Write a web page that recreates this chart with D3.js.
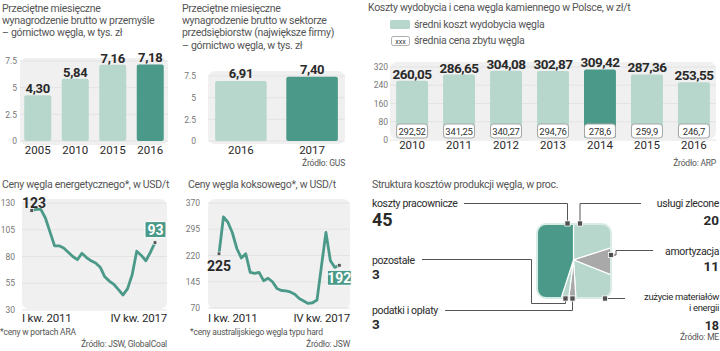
<!DOCTYPE html>
<html><head><meta charset="utf-8">
<script src="https://cdn.jsdelivr.net/npm/d3@7"></script>
<style>
html,body{margin:0;padding:0;background:#fff;}
svg{display:block;font-family:Roboto,"Noto Sans",sans-serif;}
</style></head><body>
<svg id="c" width="720" height="351"></svg>
<script>
// ---------- DATA ----------
const wageYears = ["2005","2010","2015","2016"];
const wageValues = [4.30, 5.84, 7.16, 7.18];
const wageTicks = [0, 2.5, 5, 7.5];

const corpYears = ["2016","2017"];
const corpValues = [6.91, 7.40];

const costYears = ["2010","2011","2012","2013","2014","2015","2016"];
const costValues = [260.05, 286.65, 304.08, 302.87, 309.42, 287.36, 253.55];
const priceValues = [292.52, 341.25, 340.27, 294.76, 278.6, 259.9, 246.7];
const costTicks = [0, 80, 160, 240, 320];

const quarterYears = ["2011","2012","2013","2014","2015","2016","2017"];
const quarterNames = ["I","II","III","IV"];
const energyValues = [123,124,124,116,103,90,90,88,84,80,77,83,79,76,74,70,61,57,54,49,44,50,63,85,81,76,84,93];
const energyTicks = [30, 55, 80, 105, 130];
const cokingValues = [225,330,315,285,240,213,225,172,169,172,148,155,145,126,120,119,116,109,97,90,83,85,93,190,286,205,186,192];
const cokingTicks = [70, 145, 220, 295, 370];

const structLabels = ["usługi zlecone","amortyzacja","zużycie materiałów i energii","podatki i opłaty","pozostałe","koszty pracownicze"];
const structValues = [20, 11, 18, 3, 3, 45];

// ---------- STYLE ----------
const LIGHT = "#b7d7cd", DARK = "#4b9a89", GREYBG = "#f0f0f0", GRID = "#e3e3e3";
const TITLE = "#555", TXT = "#2a2a2a", AXIS = "#777", PIEGREY = "#a9a9a9";

const svg = d3.select("#c");
const quarters = [];
quarterYears.forEach(y => quarterNames.forEach(q => quarters.push(q + " kw. " + y)));

function title(x, y0, lines, lh) {
  const t = svg.append("text").attr("fill", TITLE).attr("font-size", 10.5).attr("letter-spacing", -0.3);
  lines.forEach((l, i) => t.append("tspan").attr("x", x).attr("y", y0 + i * lh).text(l));
}
function bg(x, y, w, h) {
  svg.append("rect").attr("x", x).attr("y", y).attr("width", w).attr("height", h)
    .attr("rx", 7).attr("fill", GREYBG);
}
function yAxis(scale, ticks, x, fmt, x0, x1, grid) {
  if (grid) {
    svg.append("g").selectAll("line").data(ticks).join("line")
      .attr("x1", x0).attr("x2", x1).attr("y1", d => scale(d)).attr("y2", d => scale(d))
      .attr("stroke", GRID).attr("stroke-width", 1);
  }
  const g = svg.append("g").attr("transform", `translate(${x},0)`)
    .call(d3.axisLeft(scale).tickValues(ticks).tickSize(0).tickPadding(0).tickFormat(fmt));
  g.select(".domain").remove();
  g.selectAll("text").attr("fill", AXIS).attr("font-size", 8.5).attr("font-family", "Roboto");
}
function source(x, y, s) {
  svg.append("text").attr("x", x).attr("y", y).attr("text-anchor", "end")
    .attr("fill", "#555").attr("font-size", 8.5).attr("letter-spacing", -0.2).text(s);
}
const comma2 = v => v.toFixed(2).replace(".", ",");

// ---------- PANEL 1 ----------
title(2, 12, ["Przeciętne miesięczne", "wynagrodzenie brutto w przemyśle", "– górnictwo węgla, w tys. zł"], 12.2);
bg(20, 58, 148, 87);
{
  const x = d3.scaleBand().domain(wageYears).range([19, 169]).paddingInner(0.28).paddingOuter(0.14);
  const y = d3.scaleLinear().domain([0, 7.5]).range([141, 61]);
  yAxis(y, wageTicks, 17, d => String(d), 20, 168, true);
  svg.append("g").selectAll("rect").data(wageValues).join("rect")
    .attr("x", (d, i) => x(wageYears[i])).attr("width", x.bandwidth())
    .attr("y", d => y(d)).attr("height", d => y(0) - y(d)).attr("rx", 2)
    .attr("fill", (d, i) => i === wageValues.length - 1 ? DARK : LIGHT);
  svg.append("g").selectAll("text").data(wageValues).join("text")
    .attr("x", (d, i) => x(wageYears[i]) + x.bandwidth() / 2).attr("y", d => y(d) - 2)
    .attr("text-anchor", "middle").attr("font-weight", 700).attr("font-size", 13).attr("letter-spacing", -0.3).attr("fill", TXT)
    .text(comma2);
  svg.append("g").selectAll("text").data(wageYears).join("text")
    .attr("x", d => x(d) + x.bandwidth() / 2).attr("y", 154)
    .attr("text-anchor", "middle").attr("font-size", 11.5).attr("fill", TXT).text(d => d);
}

// ---------- PANEL 2 ----------
title(182, 12, ["Przeciętne miesięczne", "wynagrodzenie brutto w sektorze", "przedsiębiorstw (największe firmy)", "– górnictwo węgla, w tys. zł"], 12.2);
bg(208, 71, 137, 73);
{
  const x = d3.scaleBand().domain(corpYears).range([208, 345]).paddingInner(0.275).paddingOuter(0.1);
  const y = d3.scaleLinear().domain([0, 7.5]).range([141, 76]);
  yAxis(y, wageTicks, 196, d => String(d), 208, 345, true);
  svg.append("g").selectAll("rect").data(corpValues).join("rect")
    .attr("x", (d, i) => x(corpYears[i])).attr("width", x.bandwidth())
    .attr("y", d => y(d)).attr("height", d => y(0) - y(d)).attr("rx", 2)
    .attr("fill", (d, i) => i === corpValues.length - 1 ? DARK : LIGHT);
  svg.append("g").selectAll("text").data(corpValues).join("text")
    .attr("x", (d, i) => x(corpYears[i]) + x.bandwidth() / 2).attr("y", d => y(d) - 3)
    .attr("text-anchor", "middle").attr("font-weight", 700).attr("font-size", 13).attr("letter-spacing", -0.3).attr("fill", TXT)
    .text(comma2);
  svg.append("g").selectAll("text").data(corpYears).join("text")
    .attr("x", d => x(d) + x.bandwidth() / 2).attr("y", 154)
    .attr("text-anchor", "middle").attr("font-size", 11.5).attr("fill", TXT).text(d => d);
  source(345, 166, "Źródło: GUS");
}

// ---------- PANEL 3 ----------
title(368, 11, ["Koszty wydobycia i cena węgla kamiennego w Polsce, w zł/t"], 12);
svg.append("rect").attr("x", 390).attr("y", 20).attr("width", 20).attr("height", 9).attr("rx", 1.5).attr("fill", LIGHT);
svg.append("text").attr("x", 414).attr("y", 27.5).attr("font-size", 10.5).attr("letter-spacing", -0.3).attr("fill", TITLE).text("średni koszt wydobycia węgla");
svg.append("rect").attr("x", 391.5).attr("y", 36.5).attr("width", 18).attr("height", 9).attr("rx", 2)
  .attr("fill", "#fff").attr("stroke", "#999").attr("stroke-width", 0.8);
svg.append("text").attr("x", 400.5).attr("y", 43.5).attr("text-anchor", "middle").attr("font-size", 7).attr("fill", "#333").text("xxx");
svg.append("text").attr("x", 414).attr("y", 43.5).attr("font-size", 10.5).attr("letter-spacing", -0.3).attr("fill", TITLE).text("średnia cena zbytu węgla");
bg(390, 62, 326, 77);
{
  const x = d3.scaleBand().domain(costYears).range([390, 716]).paddingInner(0.32).paddingOuter(0.13);
  const y = d3.scaleLinear().domain([0, 320]).range([140, 67]);
  yAxis(y, costTicks, 388, d => String(d), 390, 716, true);
  svg.append("g").selectAll("rect").data(costValues).join("rect")
    .attr("x", (d, i) => x(costYears[i])).attr("width", x.bandwidth())
    .attr("y", d => y(d)).attr("height", d => y(0) - 2 - y(d)).attr("rx", 2)
    .attr("fill", (d, i) => costYears[i] === "2014" ? DARK : LIGHT);
  svg.append("g").selectAll("text").data(costValues).join("text")
    .attr("x", (d, i) => x(costYears[i]) + x.bandwidth() / 2).attr("y", d => y(d) - 2)
    .attr("text-anchor", "middle").attr("font-weight", 700).attr("font-size", 13.5).attr("letter-spacing", -0.5).attr("fill", TXT)
    .text(comma2);
  const box = svg.append("g").selectAll("g").data(priceValues).join("g");
  box.append("rect")
    .attr("x", (d, i) => x(costYears[i]) + 0.5).attr("width", x.bandwidth() - 1)
    .attr("y", 124).attr("height", 14).attr("rx", 3)
    .attr("fill", "#fff").attr("stroke", "#a5a5a5").attr("stroke-width", 1);
  box.append("text")
    .attr("x", (d, i) => x(costYears[i]) + x.bandwidth() / 2).attr("y", 134.5)
    .attr("text-anchor", "middle").attr("font-size", 9.5).attr("letter-spacing", -0.2).attr("fill", "#333")
    .text(d => String(d).replace(".", ","));
  svg.append("g").selectAll("text").data(costYears).join("text")
    .attr("x", d => x(d) + x.bandwidth() / 2).attr("y", 149)
    .attr("text-anchor", "middle").attr("font-size", 11.5).attr("fill", TXT).text(d => d);
  source(716, 166, "Źródło: ARP");
}

// ---------- LINE PANELS ----------
function linePanel(o) {
  title(o.tx, 188, [o.title], 12);
  bg(o.bx, 199, o.bw, 110);
  const x = d3.scalePoint().domain(quarters).range(o.xr);
  const y = d3.scaleLinear().domain([o.ticks[0], o.ticks[o.ticks.length - 1]]).range(o.yr);
  yAxis(y, o.ticks, o.ax, d => String(d), o.bx, o.bx + o.bw, true);
  const line = d3.line().x((d, i) => x(quarters[i])).y(d => y(d)).curve(d3.curveLinear);
  svg.append("path").datum(o.values).attr("d", line).attr("fill", "none")
    .attr("stroke", DARK).attr("stroke-width", 2.8).attr("stroke-linejoin", "round").attr("stroke-linecap", "round");
  const ends = [0, o.values.length - 1];
  svg.append("g").selectAll("rect").data(ends).join("rect")
    .attr("x", i => x(quarters[i]) - 1.8).attr("y", i => y(o.values[i]) - 1.8)
    .attr("width", 3.6).attr("height", 3.6).attr("fill", "#555").attr("stroke", "#fff").attr("stroke-width", 0.6);
  svg.append("text").attr("x", o.bx).attr("y", 322).attr("font-size", 11.5).attr("letter-spacing", -0.2).attr("fill", TXT).text(quarters[0]);
  svg.append("text").attr("x", o.bx + o.bw).attr("y", 322).attr("text-anchor", "end").attr("font-size", 11.5).attr("letter-spacing", -0.2).attr("fill", TXT).text(quarters[quarters.length - 1]);
  svg.append("text").attr("x", o.fx).attr("y", 335).attr("font-size", 8.5).attr("letter-spacing", -0.2).attr("fill", "#555").text(o.foot);
  source(o.bx + o.bw, 347, o.src);
  return { x, y };
}

{
  const p = linePanel({ tx: 2, title: "Ceny węgla energetycznego*, w USD/t", bx: 22, bw: 145, xr: [31.7, 155], yr: [310, 203],
    ticks: energyTicks, values: energyValues, ax: 15, fx: 0, foot: "*ceny w portach ARA", src: "Źródło: JSW, GlobalCoal" });
  const first = energyValues[0], last = energyValues[energyValues.length - 1];
  svg.append("text").attr("x", 22).attr("y", 208).attr("font-weight", 700).attr("font-size", 14).attr("fill", TXT).text(first);
  const lx = p.x(quarters[quarters.length - 1]), ly = p.y(last);
  svg.append("rect").attr("x", lx - 10).attr("y", ly - 21).attr("width", 21).attr("height", 16).attr("rx", 1.5)
    .attr("fill", DARK).attr("stroke", "#fff").attr("stroke-width", 1);
  svg.append("text").attr("x", lx + 0.5).attr("y", ly - 7.5).attr("text-anchor", "middle").attr("font-weight", 700)
    .attr("font-size", 14).attr("fill", "#fff").text(last);
}
{
  const p = linePanel({ tx: 188, title: "Ceny węgla koksowego*, w USD/t", bx: 208, bw: 142, xr: [219, 339.3], yr: [308, 203],
    ticks: cokingTicks, values: cokingValues, ax: 200, fx: 190, foot: "*ceny australijskiego węgla typu hard", src: "Źródło: JSW" });
  const first = cokingValues[0], last = cokingValues[cokingValues.length - 1];
  svg.append("text").attr("x", p.x(quarters[0])).attr("y", p.y(first) + 17).attr("text-anchor", "middle")
    .attr("font-weight", 700).attr("font-size", 14).attr("fill", TXT).text(first);
  const lx = p.x(quarters[quarters.length - 1]), ly = p.y(last);
  svg.append("rect").attr("x", lx - 12).attr("y", ly + 5).attr("width", 24).attr("height", 15).attr("rx", 1.5)
    .attr("fill", DARK).attr("stroke", "#fff").attr("stroke-width", 1);
  svg.append("text").attr("x", lx).attr("y", ly + 17.5).attr("text-anchor", "middle").attr("font-weight", 700)
    .attr("font-size", 14).attr("fill", "#fff").text(last);
}

// ---------- PANEL 6: cost structure ----------
title(372, 188, ["Struktura kosztów produkcji węgla, w proc."], 12);
{
  const sq = { x: 537, y: 224, s: 74 };
  const cx = 573.5, cy = 260;
  const colors = [LIGHT, PIEGREY, LIGHT, PIEGREY, LIGHT, DARK];
  const defs = svg.append("defs");
  defs.append("clipPath").attr("id", "sqclip").append("rect")
    .attr("x", sq.x).attr("y", sq.y).attr("width", sq.s).attr("height", sq.s).attr("rx", 9);
  const pie = d3.pie().sort(null).value(d => d)(structValues);
  const arc = d3.arc().innerRadius(0).outerRadius(70);
  svg.append("g").attr("clip-path", "url(#sqclip)")
    .append("g").attr("transform", `translate(${cx},${cy})`)
    .selectAll("path").data(pie).join("path").attr("d", arc)
    .attr("fill", (d, i) => colors[i]).attr("stroke", "#fff").attr("stroke-width", 1.2);
  svg.append("rect").attr("x", sq.x).attr("y", sq.y).attr("width", sq.s).attr("height", sq.s).attr("rx", 9)
    .attr("fill", "none").attr("stroke", "#d9ebe5").attr("stroke-width", 2);

  const LC = "#555";
  const leader = pts => svg.append("polyline").attr("points", pts.map(p => p.join(",")).join(" "))
    .attr("fill", "none").attr("stroke", LC).attr("stroke-width", 1);
  const callouts = [
    { i: 5, pts: [[464, 203.5], [567.5, 203.5], [567.5, 223.5]], m: [567.5, 223.5] },
    { i: 0, pts: [[641, 203.5], [580, 203.5], [580, 223.5]], m: [580, 223.5] },
    { i: 1, pts: [[653, 250.5], [616, 250.5], [616, 255], [611, 255]], m: [611, 255] },
    { i: 2, pts: [[625, 298.5], [605, 298.5]], m: [605, 298.5] },
    { i: 4, pts: [[422, 259.5], [531.5, 259.5], [531.5, 303.5], [565.5, 303.5], [565.5, 298.5]], m: [565.5, 298.5] },
    { i: 3, pts: [[445, 310.5], [572.5, 310.5], [572.5, 298.5]], m: [572.5, 298.5] }
  ];
  callouts.forEach(c => leader(c.pts));
  callouts.forEach(c => svg.append("rect").attr("x", c.m[0] - 2.6).attr("y", c.m[1] - 2.6)
    .attr("width", 5.2).attr("height", 5.2).attr("fill", "#505050").attr("stroke", "#fff").attr("stroke-width", 0.8));

  const lab = (x, y, s, anchor, fs) => svg.append("text").attr("x", x).attr("y", y).attr("text-anchor", anchor)
    .attr("font-size", fs || 10.5).attr("letter-spacing", -0.35).attr("fill", TXT).text(s);
  const num = (x, y, v, fs, anchor) => svg.append("text").attr("x", x).attr("y", y).attr("text-anchor", anchor)
    .attr("font-weight", 700).attr("font-size", fs).attr("fill", TXT).text(v);

  lab(372, 207, structLabels[5], "start"); num(372, 226, structValues[5], 18, "start");
  lab(719, 207, structLabels[0], "end"); num(719, 225, structValues[0], 13.5, "end");
  lab(719, 255, structLabels[1], "end"); num(719, 270.5, structValues[1], 13.5, "end");
  const zl = structLabels[2].split(" i ");
  lab(719, 300, zl[0], "end", 9.5); lab(719, 311, "i " + zl[1], "end", 9.5); num(719, 329.5, structValues[2], 12.5, "end");
  lab(372, 263.5, structLabels[4], "start"); num(372, 278.5, structValues[4], 13.5, "start");
  lab(372, 313.5, structLabels[3], "start"); num(372, 329, structValues[3], 13.5, "start");
  source(719, 340, "Źródło: ME");
}
</script>
</body></html>
